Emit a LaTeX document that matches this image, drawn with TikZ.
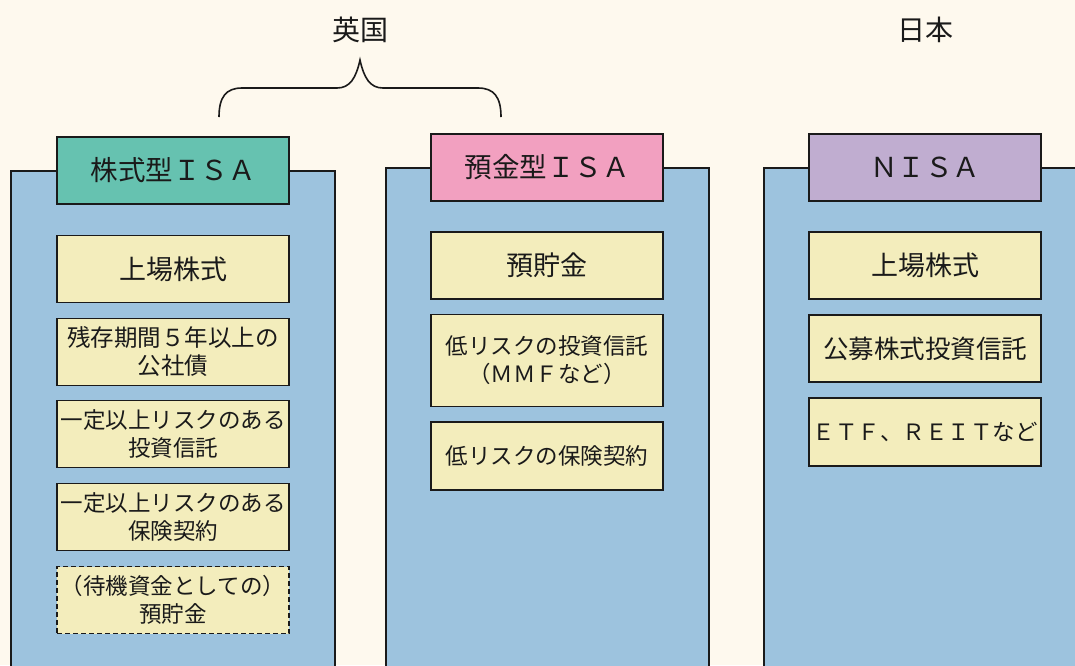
\documentclass[tikz,border=0pt]{standalone}
\usepackage{fontspec}
\setmainfont{Noto Sans CJK JP}
\definecolor{bgc}{HTML}{FEF9EE}
\definecolor{panelc}{HTML}{9DC3DE}
\definecolor{itemc}{HTML}{F3EDBC}
\definecolor{tealc}{HTML}{66C2B0}
\definecolor{pinkc}{HTML}{F2A0C0}
\definecolor{purplec}{HTML}{C0ADD0}
\definecolor{inkc}{HTML}{1A1A1A}
\tikzset{
  panel/.style={draw=inkc, line width=1.6pt, fill=panelc, minimum width=#1, inner sep=0pt},
  titlebox/.style={draw=inkc, line width=1.6pt, fill=#1, minimum width=232pt, minimum height=67pt, inner sep=0pt, font=\fontsize{27.5}{32}\selectfont, text=inkc},
  itembox/.style={draw=inkc, line width=1.7pt, fill=itemc, minimum width=232pt, minimum height=#1, inner sep=0pt, align=center, text=inkc},
  bigtxt/.style={font=\fontsize{27}{32}\selectfont},
  midtxt/.style={font=\fontsize{25.5}{30}\selectfont},
  smalltxt/.style={font=\fontsize{22.5}{28}\selectfont},
  dashbox/.style={dashed, dash pattern=on 5pt off 3pt},
  label/.style={font=\fontsize{28}{32}\selectfont, text=inkc}
}
\begin{document}
\begin{tikzpicture}[x=1pt,y=-1pt]
\useasboundingbox (0,0) rectangle (1075,665);
\fill[bgc] (0,0) rectangle (1075,665);
\clip (0,0) rectangle (1075,665);
% panels
\node[panel=324pt, minimum height=560pt] (p1) at (173,451) {};
\node[panel=323pt, minimum height=560pt] (p2) at (547.5,448) {};
\node[panel=324pt, minimum height=560pt] (p3) at (926,448) {};
% titles
\node[titlebox=tealc] (t1) at (173,170.5) {株式型ＩＳＡ};
\node[titlebox=pinkc] (t2) at (547,167.5) {預金型ＩＳＡ};
\node[titlebox=purplec] (t3) at (925,167.5) {ＮＩＳＡ};
% panel 1 items
\node[itembox=67pt, bigtxt] (a1) at (173,269) {上場株式};
\node[itembox=67pt, smalltxt, font=\fontsize{23.5}{28}\selectfont] (a2) at (173,352) {残存期間５年以上の\\公社債};
\node[itembox=67pt, smalltxt] (a3) at (173,434) {一定以上リスクのある\\投資信託};
\node[itembox=67pt, smalltxt] (a4) at (173,517) {一定以上リスクのある\\保険契約};
\node[itembox=67pt, smalltxt, dashbox] (a5) at (173,600) {（待機資金としての）\\預貯金};
% panel 2 items
\node[itembox=67pt, bigtxt] (b1) at (547,265.5) {預貯金};
\node[itembox=92pt, smalltxt] (b2) at (547,360.5) {低リスクの投資信託\\（ＭＭＦなど）};
\node[itembox=68pt, smalltxt] (b3) at (547,456) {低リスクの保険契約};
% panel 3 items
\node[itembox=67pt, bigtxt] (c1) at (925,265.5) {上場株式};
\node[itembox=67pt, midtxt] (c2) at (925,348.5) {公募株式投資信託};
\node[itembox=68pt, smalltxt] (c3) at (925,432) {ＥＴＦ、ＲＥＩＴなど};
% country labels
\node[label] (uk) at (360,30) {英国};
\node[label] (jp) at (925,30) {日本};
% brace
\coordinate (bl) at (219,117);
\coordinate (br) at (501,117);
\coordinate (tip) at (360,60);
\draw[inkc, line width=1.6pt] (bl) .. controls (219,97) and (226,88) .. (242,88) -- (337,88) .. controls (350,88) and (356,78) .. (tip)
  .. controls (364,78) and (370,88) .. (383,88) -- (478,88) .. controls (494,88) and (501,97) .. (br);
\end{tikzpicture}
\end{document}
